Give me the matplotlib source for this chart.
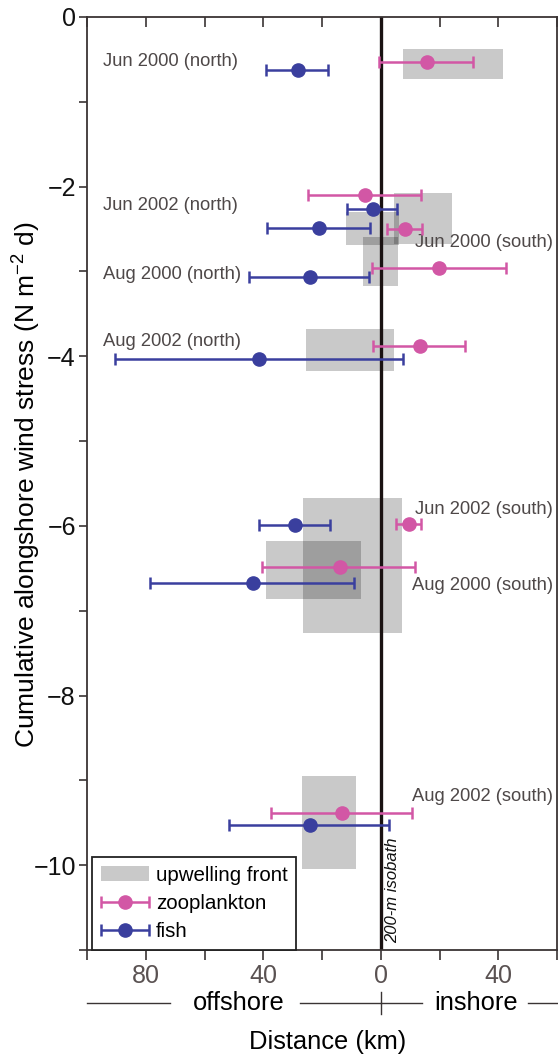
import matplotlib
matplotlib.use("Agg")
import matplotlib.pyplot as plt
from matplotlib.patches import Patch
from matplotlib.legend_handler import HandlerErrorbar
from matplotlib.ticker import FuncFormatter, MultipleLocator
import numpy as np

plt.rcParams['font.family'] = ['Liberation Sans', 'DejaVu Sans']
plt.rcParams['mathtext.fontset'] = 'custom'
plt.rcParams['mathtext.rm'] = 'Liberation Sans'
plt.rcParams['mathtext.it'] = 'Liberation Sans:italic'

# distance in km, offshore positive; y = cumulative alongshore wind stress
front_x0 = [-7.5, 11.9, -4.4, 6.0, 25.3, 26.5, 38.9, 26.7]
front_x1 = [-41.6, -6.2, -24.3, -5.9, -4.5, -7.4, 6.8, 8.3]
front_y0 = [-0.38, -2.30, -2.08, -2.59, -3.68, -5.67, -6.18, -8.95]
front_y1 = [-0.73, -2.69, -2.68, -3.17, -4.17, -7.26, -6.86, -10.04]

zoo_x = [-15.7, 5.2, -8.2, -19.9, -13.2, -9.7, 14.0, 13.2]
zoo_y = [-0.53, -2.10, -2.50, -2.96, -3.88, -5.98, -6.49, -9.38]
zoo_off = [0.0, 24.2, -2.3, 3.0, 2.4, -5.8, 39.7, 36.9]     # offshore end of bar
zoo_in = [-32.0, -14.4, -14.4, -42.8, -29.2, -14.1, -12.4, -10.8]  # inshore end

fish_x = [28.3, 2.8, 21.0, 24.2, 41.5, 29.2, 43.5, 24.2]
fish_y = [-0.625, -2.26, -2.49, -3.07, -4.03, -5.99, -6.67, -9.53]
fish_off = [38.8, 11.0, 38.2, 44.5, 90.6, 41.0, 78.0, 51.2]
fish_in = [17.7, -6.0, 3.4, 3.4, -7.6, 17.0, 8.6, -3.3]

north_labels = ["Jun 2000 (north)", "Jun 2002 (north)", "Aug 2000 (north)", "Aug 2002 (north)"]
north_y = [-0.53, -2.22, -3.04, -3.83]
south_labels = ["Jun 2000 (south)", "Jun 2002 (south)", "Aug 2000 (south)", "Aug 2002 (south)"]
south_y = [-2.66, -5.81, -6.70, -9.19]

ZOO = '#d257a5'
FISH = '#3a3f9e'
SPINE = '#3a3434'
LBL = '#4e4848'

fig = plt.figure(figsize=(5.58, 10.56), dpi=100)
ax = fig.add_axes([87 / 558, 1 - 950 / 1056, 470 / 558, 933 / 1056])

# upwelling fronts
fx0 = np.array(front_x0)
fx1 = np.array(front_x1)
fy0 = np.array(front_y0)
fy1 = np.array(front_y1)
ax.barh((fy0 + fy1) / 2, fx1 - fx0, left=fx0, height=np.abs(fy1 - fy0),
        color='k', alpha=0.21, linewidth=0, zorder=1)

ax.axvline(0, color='#1a1212', lw=2.4, zorder=2)

zx = np.array(zoo_x)
ax.errorbar(zoo_x, zoo_y, xerr=[np.abs(np.array(zoo_off) - zx), np.abs(zx - np.array(zoo_in))],
            fmt='o', color=ZOO, ms=9.5, elinewidth=1.8, capsize=4.5, capthick=1.8,
            zorder=4, label='zooplankton')
fxx = np.array(fish_x)
ax.errorbar(fish_x, fish_y, xerr=[np.abs(np.array(fish_off) - fxx), np.abs(fxx - np.array(fish_in))],
            fmt='o', color=FISH, ms=9.5, elinewidth=1.8, capsize=4.5, capthick=1.8,
            zorder=4, label='fish')

for t, y in zip(north_labels, north_y):
    ax.text(94.7, y, t, ha='left', va='center', fontsize=13.2, color=LBL)
for t, y in zip(south_labels, south_y):
    ax.text(-58.6, y, t, ha='right', va='center', fontsize=13.2, color=LBL)

ax.text(-1.4, -10.92, "200-m isobath", rotation=90, ha='left', va='bottom',
        fontsize=12, style='italic', color='#111')

ax.set_xlim(100, -60)
ax.set_ylim(-11, 0)
ax.xaxis.set_major_locator(MultipleLocator(40))
ax.xaxis.set_minor_locator(MultipleLocator(20))
ax.xaxis.set_major_formatter(FuncFormatter(lambda v, p: "%d" % abs(v)))
ax.yaxis.set_major_locator(MultipleLocator(2))
ax.yaxis.set_minor_locator(MultipleLocator(1))
ax.tick_params(axis='x', which='both', direction='out', length=7, width=1.2,
               color=SPINE, labelsize=18, labelcolor='#5a5252', pad=3)
ax.tick_params(axis='y', which='both', direction='out', length=6, width=1.2,
               color=SPINE, labelsize=18, labelcolor='#111', pad=2)
for s in ax.spines.values():
    s.set_color(SPINE)
    s.set_linewidth(1.3)

# top ticks point inward: draw them as a secondary axis
top = ax.secondary_xaxis('top')
top.xaxis.set_major_locator(MultipleLocator(20))
top.tick_params(direction='in', length=7, width=1.2, color=SPINE, labeltop=False)
top.spines['top'].set_visible(False)

# legend
front_patch = Patch(facecolor='k', alpha=0.21, edgecolor='none', label='upwelling front')
handles, labels = ax.get_legend_handles_labels()
leg = ax.legend([front_patch] + handles, ['upwelling front'] + labels,
                loc='lower left', bbox_to_anchor=(0.011, 0.0), borderaxespad=0,
                fontsize=14.8, handlelength=2.35, handletextpad=0.32, labelspacing=0.45,
                borderpad=0.42, fancybox=False, framealpha=1,
                handler_map={type(handles[0]): HandlerErrorbar(xerr_size=1.175)})
leg.get_frame().set_edgecolor('#222')
leg.get_frame().set_linewidth(1.3)

# offshore / inshore bar under the axis
tr = ax.get_xaxis_transform()
yb = (950 - 1003) / 933
for a, b in [(100, 71.9), (27.6, 0), (0, -13.9), (-50, -60.3)]:
    ax.plot([a, b], [yb, yb], color=SPINE, lw=1.0, transform=tr, clip_on=False)
ax.plot([0, 0], [(950 - 992) / 933, (950 - 1014) / 933], color=SPINE, lw=1.0,
        transform=tr, clip_on=False)
ax.text(48.4, yb, "offshore", transform=tr, ha='center', va='center', fontsize=18.4)
ax.text(-32.6, yb, "inshore", transform=tr, ha='center', va='center', fontsize=18.4)

fig.text(328 / 558, 1 - 1042 / 1056, "Distance (km)", ha='center', va='center', fontsize=18.4)
fig.text(27 / 558, 1 - 485 / 1056, "Cumulative alongshore wind stress (N m$^{-2}$ d)",
         rotation=90, ha='center', va='center', fontsize=19)

fig.savefig("out.png", dpi=100)
